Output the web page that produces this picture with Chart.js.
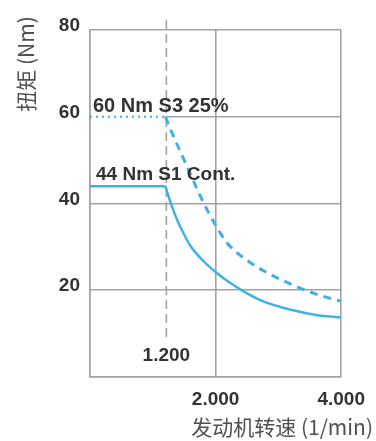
<!DOCTYPE html>
<html>
<head>
<meta charset="utf-8">
<script src="https://cdn.jsdelivr.net/npm/chart.js@4/dist/chart.umd.min.js"></script>
<style>
  html, body { margin: 0; padding: 0; background: #fff; }
  canvas { display: block; }
</style>
</head>
<body>
<canvas id="chart" width="376" height="441"></canvas>
<script>
// Motor speed (1/min) and torque (Nm) curves
const speedRpm  = [0, 1200, 1300, 1400, 1500, 1600, 1800, 2000, 2200, 2500, 2800, 3200, 3600, 4000];
const torqueS1  = [44, 44, 39.5, 35.8, 32.8, 30.2, 26.8, 24.2, 22, 19.3, 17.2, 15.5, 14.3, 13.7];
const torqueS3  = [60, 60, 56.5, 53.2, 50, 46.7, 40.4, 35, 30.6, 26.9, 24.2, 21.4, 19.1, 17.5];
const yTickValues = [20, 40, 60, 80];
const xTickValues = [2000, 4000];
const cornerSpeed = 1200;
const cornerLabel = '1.200';
const labelS1 = '44 Nm S1 Cont.';
const labelS3 = '60 Nm S3 25%';
const xTitle = '发动机转速 (1/min)';
const yTitle = '扭矩 (Nm)';

const BLUE = '#3fb1e8';
const GRID = '#a2a2a2';
const TEXT = '#333333';
const NUM_FONT = 'bold 19px "Liberation Sans", Arial, sans-serif';

const fmt = v => String(v).replace(/\B(?=(\d{3})+(?!\d))/g, '.');

// split each curve into the flat constant-torque part and the falling part
const cornerIdx = speedRpm.indexOf(cornerSpeed);
const pts = (ys, from, to) => speedRpm.slice(from, to).map((x, i) => ({ x, y: ys[from + i] }));

const overlay = {
  id: 'overlay',
  beforeDatasetsDraw(chart) {
    const { ctx, scales: { x, y }, chartArea } = chart;
    ctx.save();
    // 60 Nm grid line only right of the corner speed
    ctx.strokeStyle = GRID;
    ctx.lineWidth = 1.6;
    ctx.beginPath();
    ctx.moveTo(x.getPixelForValue(cornerSpeed), y.getPixelForValue(60));
    ctx.lineTo(chartArea.right, y.getPixelForValue(60));
    ctx.stroke();
    // dashed marker at the corner speed
    const px = x.getPixelForValue(cornerSpeed) + 1;
    ctx.setLineDash([9, 5]);
    ctx.beginPath();
    ctx.moveTo(px, chartArea.top - 10);
    ctx.lineTo(px, y.getPixelForValue(9));
    ctx.stroke();
    ctx.restore();
  },
  afterDatasetsDraw(chart) {
    const { ctx, scales: { x, y }, chartArea } = chart;
    ctx.save();
    ctx.fillStyle = TEXT;
    ctx.textBaseline = 'alphabetic';
    ctx.textAlign = 'left';
    ctx.font = 'bold 20px "Liberation Sans", Arial, sans-serif';
    ctx.fillText(labelS3, chartArea.left + 3, y.getPixelForValue(60) - 5);
    ctx.font = NUM_FONT;
    ctx.fillText(labelS1, chartArea.left + 6, y.getPixelForValue(44) - 6);
    ctx.textAlign = 'center';
    ctx.textBaseline = 'middle';
    ctx.fillText(cornerLabel, x.getPixelForValue(cornerSpeed) + 1, y.getPixelForValue(5));
    // axis titles
    ctx.fillStyle = '#505050';
    ctx.font = '21px "Noto Sans CJK SC", sans-serif';
    ctx.textAlign = 'right';
    ctx.fillText(xTitle, 373, 427);
    ctx.translate(26, 64);
    ctx.rotate(-Math.PI / 2);
    ctx.textAlign = 'center';
    ctx.fillText(yTitle, 0, 0);
    ctx.restore();
  }
};

new Chart(document.getElementById('chart'), {
  type: 'line',
  data: {
    datasets: [
      {
        data: pts(torqueS3, 0, cornerIdx + 1),
        borderColor: BLUE, borderWidth: 2, borderDash: [2, 4], tension: 0
      },
      {
        data: pts(torqueS3, cornerIdx, speedRpm.length),
        borderColor: BLUE, borderWidth: 3, borderDash: [8, 6], cubicInterpolationMode: 'monotone'
      },
      {
        data: pts(torqueS1, 0, cornerIdx + 1),
        borderColor: BLUE, borderWidth: 2.5, tension: 0
      },
      {
        data: pts(torqueS1, cornerIdx, speedRpm.length),
        borderColor: BLUE, borderWidth: 2.5, cubicInterpolationMode: 'monotone'
      }
    ]
  },
  options: {
    responsive: false,
    devicePixelRatio: 1,
    animation: false,
    layout: { padding: { top: 30, right: 34, bottom: 0, left: 0 } },
    elements: { point: { radius: 0 } },
    plugins: { legend: { display: false }, tooltip: { enabled: false } },
    scales: {
      x: {
        type: 'linear', min: 0, max: 4000,
        afterBuildTicks: s => { s.ticks = [0, ...xTickValues].map(v => ({ value: v })); },
        afterFit: s => { s.height = 64; },
        grid: { color: GRID, lineWidth: 1.6, drawTicks: false },
        border: { color: GRID, width: 1.6 },
        ticks: {
          padding: 11, color: TEXT, maxRotation: 0, autoSkip: false,
          font: { family: '"Liberation Sans", Arial, sans-serif', size: 19, weight: 'bold' },
          callback: v => (v === 0 ? '' : fmt(v))
        }
      },
      y: {
        type: 'linear', min: 0, max: 80,
        afterBuildTicks: s => { s.ticks = [0, ...yTickValues].map(v => ({ value: v })); },
        afterFit: s => { s.width = 90; },
        grid: {
          color: c => (c.tick && c.tick.value === 60 ? 'rgba(0,0,0,0)' : GRID),
          lineWidth: 1.6, drawTicks: false
        },
        border: { color: GRID, width: 1.6 },
        ticks: {
          padding: 10, color: TEXT, labelOffset: -4,
          font: { family: '"Liberation Sans", Arial, sans-serif', size: 19, weight: 'bold' },
          callback: v => (v === 0 ? '' : String(v))
        }
      }
    }
  },
  plugins: [overlay]
});
</script>
</body>
</html>
